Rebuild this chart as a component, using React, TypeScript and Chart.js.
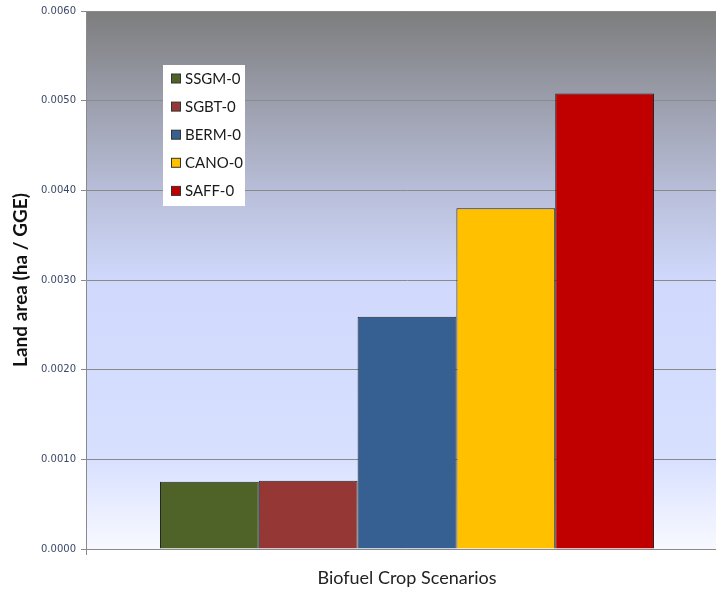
import React, { useEffect, useRef } from "react";
import { Chart, registerables } from "chart.js";

Chart.register(...registerables);

const categories = [""];
const seriesNames = ["SSGM-0", "SGBT-0", "BERM-0", "CANO-0", "SAFF-0"];
const seriesValues = [0.00075, 0.00076, 0.00259, 0.0038, 0.00508];
const seriesColors = ["#4f6228", "#953735", "#376092", "#ffc000", "#c00000"];
const yTicks = [0, 0.001, 0.002, 0.003, 0.004, 0.005, 0.006];
const yTitle = "Land area (ha / GGE)";
const xTitle = "Biofuel Crop Scenarios";

const bgPlugin = {
  id: "bgGradient",
  beforeDraw(chart: any) {
    const { ctx, chartArea } = chart;
    if (!chartArea) return;
    const { left, right, top, bottom } = chartArea;
    const g = ctx.createLinearGradient(0, top, 0, bottom);
    g.addColorStop(0, "#7d7d7d");
    g.addColorStop(0.167, "#9b9eac");
    g.addColorStop(0.333, "#b8bed8");
    g.addColorStop(0.5, "#d0d9fc");
    g.addColorStop(0.833, "#d8e0ff");
    g.addColorStop(1, "#f8f9ff");
    ctx.save();
    ctx.fillStyle = g;
    ctx.fillRect(left, top, right - left, bottom - top);
    ctx.restore();
  },
};

const legendPlugin = {
  id: "boxLegend",
  afterDatasetsDraw(chart: any) {
    const { ctx } = chart;
    ctx.save();
    ctx.fillStyle = "#ffffff";
    ctx.fillRect(163, 65, 82, 141);
    chart.data.datasets.forEach((ds: any, i: number) => {
      const y = 78.5 + i * 28.1;
      ctx.fillStyle = ds.backgroundColor;
      ctx.fillRect(171.5, y - 4.5, 9, 9);
      ctx.strokeStyle = "#333333";
      ctx.lineWidth = 1;
      ctx.strokeRect(171.5, y - 4.5, 9, 9);
      ctx.fillStyle = "#1a1a1a";
      ctx.font = "15px Lato, 'Open Sans', sans-serif";
      ctx.textBaseline = "middle";
      ctx.textAlign = "left";
      ctx.fillText(ds.label, 185, y + 0.5);
    });
    ctx.restore();
  },
};

export default function App() {
  const canvasRef = useRef<HTMLCanvasElement | null>(null);

  useEffect(() => {
    document.body.style.margin = "0";
    document.body.style.overflow = "hidden";
    const canvas = canvasRef.current;
    if (!canvas) return;
    const chart = new Chart(canvas, {
      type: "bar",
      data: {
        labels: categories,
        datasets: seriesNames.map((name, i) => ({
          label: name,
          data: [seriesValues[i]],
          backgroundColor: seriesColors[i],
          borderColor: "#262626",
          borderWidth: 1,
          categoryPercentage: 0.7695,
          barPercentage: 1,
        })),
      },
      options: {
        animation: false,
        responsive: false,
        maintainAspectRatio: false,
        layout: { padding: { top: 9, right: 0, left: 0, bottom: 0 } },
        plugins: {
          legend: { display: false },
          tooltip: { enabled: false },
        },
        scales: {
          x: {
            grid: {
              display: true,
              drawOnChartArea: false,
              drawTicks: true,
              tickLength: 6,
              color: "#8a8a8a",
            },
            border: { display: true, color: "#8a8a8a" },
            ticks: { display: false },
            title: {
              display: true,
              text: xTitle,
              color: "#222222",
              font: { family: "Lato, 'Open Sans', sans-serif", size: 18 },
              padding: { top: 0, bottom: 3 },
            },
            afterFit(scale: any) {
              scale.height = 43;
            },
          },
          y: {
            min: 0,
            max: 0.006,
            afterBuildTicks(scale: any) {
              scale.ticks = yTicks.map((v) => ({ value: v }));
            },
            ticks: {
              callback: (v: any) => Number(v).toFixed(4),
              color: "#3c4868",
              font: { family: "'DejaVu Sans', sans-serif", size: 10 },
              padding: 5,
            },
            grid: {
              color: "#8a8a8a",
              tickLength: 5,
            },
            border: { display: true, color: "#8a8a8a" },
            title: {
              display: true,
              text: yTitle,
              color: "#111111",
              font: { family: "Lato, 'Open Sans', sans-serif", size: 19, weight: "bold" },
              padding: { top: 9, bottom: 0 },
            },
            afterFit(scale: any) {
              scale.width = 86;
            },
          },
        },
      },
      plugins: [bgPlugin, legendPlugin],
    });
    return () => chart.destroy();
  }, []);

  return (
    <div style={{ width: 716, height: 592, overflow: "hidden", position: "relative" }}>
      <div style={{ width: 728, height: 592 }}>
        <canvas ref={canvasRef} width={728} height={592} style={{ display: "block" }} />
      </div>
    </div>
  );
}
